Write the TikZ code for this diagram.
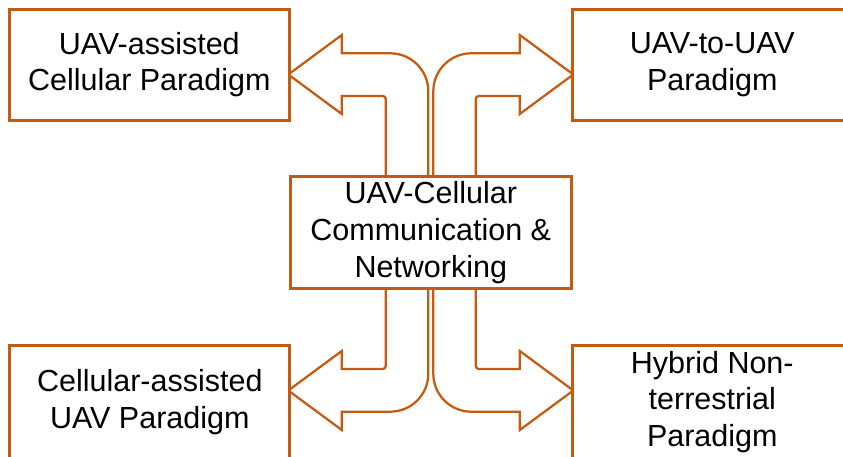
\documentclass[tikz,border=0pt]{standalone}
\usepackage{fontspec}
\setmainfont{Liberation Sans}
\usepackage{tikz}
\definecolor{orng}{RGB}{197, 90, 17}
\newcommand*{\bw}{280}
\newcommand*{\bh}{111}

\begin{document}
\begin{tikzpicture}[
   x=1pt, y=1pt,
   parabox/.style={rectangle, draw=orng, fill=white, line width=2.75, text=black,
                   align=center, inner sep=2, minimum width=\bw, minimum height=\bh,
                   font=\fontsize{30.5}{36.7}\selectfont},
   hubbox/.style={parabox, minimum width=281, minimum height=111.6},
   blockarrow/.style={draw=orng, fill=white, line width=2.25, line join=miter}
  ]

  % Page frame
  \useasboundingbox (-430.8, 232.5) rectangle (412.2, -224.5);
  \clip (-430.8, 232.5) rectangle (412.2, -224.5);

  % Bent block arrows, one per quadrant
  \foreach \sx/\sy in {1/1, -1/1, 1/-1, -1/-1} {
    \begin{scope}[xscale=\sx, yscale=\sy]
      \draw[blockarrow] (45, 55.8) -- (45, 133.5) arc[start angle=180, end angle=90, radius=3]
        -- (89, 136.5) -- (89, 118.5) -- (142.5, 158) -- (89, 197.5) -- (89, 179.2)
        -- (40.5, 179.2) arc[start angle=90, end angle=180, radius=38] -- (2.5, 55.8);
    \end{scope}
  }

  \node (C) at (0, 0) [hubbox] {UAV-Cellular\\Communication \&\\Networking};

  \node (UL) at (-281.5, 167.85) [parabox] {UAV-assisted\\Cellular Paradigm};
  \node (UR) at (281.5, 167.85) [parabox] {UAV-to-UAV\\Paradigm};
  \node (LL) at (-281, -169.5) [parabox, minimum height=113] {Cellular-assisted\\UAV Paradigm};
  \node (LR) at (281.5, -169.5) [parabox, minimum height=113] {Hybrid Non-\\terrestrial\\Paradigm};

\end{tikzpicture}
\end{document}
